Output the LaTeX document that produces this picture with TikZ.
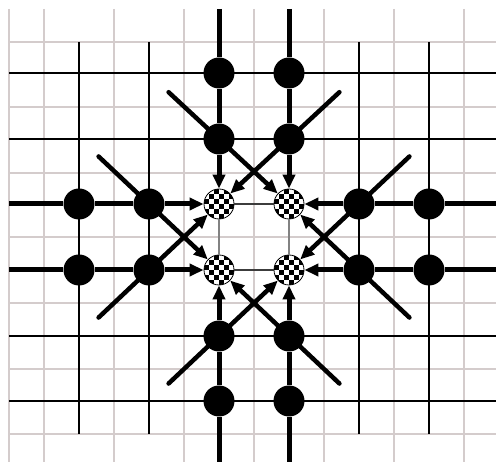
\documentclass[tikz,border=0pt]{standalone}
\usetikzlibrary{arrows.meta,calc}
\definecolor{lightgrid}{RGB}{212,204,204}
\definecolor{midgray}{RGB}{130,130,130}
\definecolor{darkgray2}{RGB}{60,60,60}
\tikzset{
  lgrid/.style={draw=lightgrid,line width=2pt},
  dgrid/.style={draw=black,line width=2.2pt},
  thickln/.style={draw=black,line width=5pt},
  diagln/.style={draw=black,line width=4.5pt},
  tip/.style={-{Triangle[length=14pt,width=12pt]}},
  dot/.style={circle,fill=black,inner sep=0pt,minimum size=31pt},
  checker/.style={circle,draw=black,line width=0.8pt,fill=white,inner sep=0pt,minimum size=30pt,
    path picture={
      \foreach \i in {-3,...,2}{\foreach \j in {-3,...,2}{
        \pgfmathtruncatemacro\pp{mod(\i+\j+6,2)}
        \ifnum\pp=0 \fill[black] ([shift={(\i*5,\j*5)}]path picture bounding box.center) rectangle ++(5,5);\fi
      }}
    }},
  hlink/.style={draw=darkgray2,line width=1.6pt},
  vlink/.style={draw=midgray,line width=2pt}
}
\begin{document}
\begin{tikzpicture}[x=1pt,y=-1pt]
\useasboundingbox (0,0) rectangle (496,462);
% light grid
\foreach \x in {9,44,114,184,254,324,394,464} \draw[lgrid] (\x,9) -- (\x,462);
\foreach \y in {42,107,173,237,303,369,434} \draw[lgrid] (9,\y) -- (496,\y);
% dark grid
\foreach \x in {79,149,359,429} \draw[dgrid] (\x,42) -- (\x,434);
\foreach \y in {73,139,336,401} \draw[dgrid] (9,\y) -- (496,\y);
% checkered nodes
\node[checker] (cTL) at (219,204) {};
\node[checker] (cTR) at (289,204) {};
\node[checker] (cBL) at (219,270) {};
\node[checker] (cBR) at (289,270) {};
% dots
\node[dot] (t1a) at (219,73) {};
\node[dot] (t1b) at (219,139) {};
\node[dot] (t2a) at (289,73) {};
\node[dot] (t2b) at (289,139) {};
\node[dot] (l1a) at (79,204) {};
\node[dot] (l1b) at (149,204) {};
\node[dot] (l2a) at (79,270) {};
\node[dot] (l2b) at (149,270) {};
\node[dot] (r1a) at (429,204) {};
\node[dot] (r1b) at (359,204) {};
\node[dot] (r2a) at (429,270) {};
\node[dot] (r2b) at (359,270) {};
\node[dot] (b1a) at (219,401) {};
\node[dot] (b1b) at (219,336) {};
\node[dot] (b2a) at (289,401) {};
\node[dot] (b2b) at (289,336) {};
% free ends
\coordinate (eT1) at (219,9);
\coordinate (eT2) at (289,9);
\coordinate (eL1) at (9,204);
\coordinate (eL2) at (9,270);
\coordinate (eR1) at (496,204);
\coordinate (eR2) at (496,270);
\coordinate (eB1) at (219,462);
\coordinate (eB2) at (289,462);
% links between checkered nodes
\draw[hlink] (cTL) -- (cTR);
\draw[hlink] (cBL) -- (cBR);
\draw[vlink] (cTL) -- (cBL);
\draw[vlink] (cTR) -- (cBR);
% thick lines with arrows
\draw[thickln] (eT1) -- (t1a) -- (t1b);
\draw[thickln,tip] (t1b) -- (cTL);
\draw[thickln] (eT2) -- (t2a) -- (t2b);
\draw[thickln,tip] (t2b) -- (cTR);
\draw[thickln] (eL1) -- (l1a) -- (l1b);
\draw[thickln,tip] (l1b) -- (cTL);
\draw[thickln] (eL2) -- (l2a) -- (l2b);
\draw[thickln,tip] (l2b) -- (cBL);
\draw[thickln] (eR1) -- (r1a) -- (r1b);
\draw[thickln,tip] (r1b) -- (cTR);
\draw[thickln] (eR2) -- (r2a) -- (r2b);
\draw[thickln,tip] (r2b) -- (cBR);
\draw[thickln] (eB1) -- (b1a) -- (b1b);
\draw[thickln,tip] (b1b) -- (cBL);
\draw[thickln] (eB2) -- (b2a) -- (b2b);
\draw[thickln,tip] (b2b) -- (cBR);
% diagonal lines
\coordinate (fT1) at ($(t1b)!-0.72!(cTR)$);
\coordinate (fT2) at ($(t2b)!-0.72!(cTL)$);
\coordinate (fL1) at ($(l1b)!-0.72!(cBL)$);
\coordinate (fL2) at ($(l2b)!-0.72!(cTL)$);
\coordinate (fR1) at ($(r1b)!-0.72!(cBR)$);
\coordinate (fR2) at ($(r2b)!-0.72!(cTR)$);
\coordinate (fB1) at ($(b1b)!-0.72!(cBR)$);
\coordinate (fB2) at ($(b2b)!-0.72!(cBL)$);
\draw[diagln,line cap=round,tip] (fT1) -- (cTR);
\draw[diagln,line cap=round,tip] (fT2) -- (cTL);
\draw[diagln,line cap=round,tip] (fL1) -- (cBL);
\draw[diagln,line cap=round,tip] (fL2) -- (cTL);
\draw[diagln,line cap=round,tip] (fR1) -- (cBR);
\draw[diagln,line cap=round,tip] (fR2) -- (cTR);
\draw[diagln,line cap=round,tip] (fB1) -- (cBR);
\draw[diagln,line cap=round,tip] (fB2) -- (cBL);
\end{tikzpicture}
\end{document}
